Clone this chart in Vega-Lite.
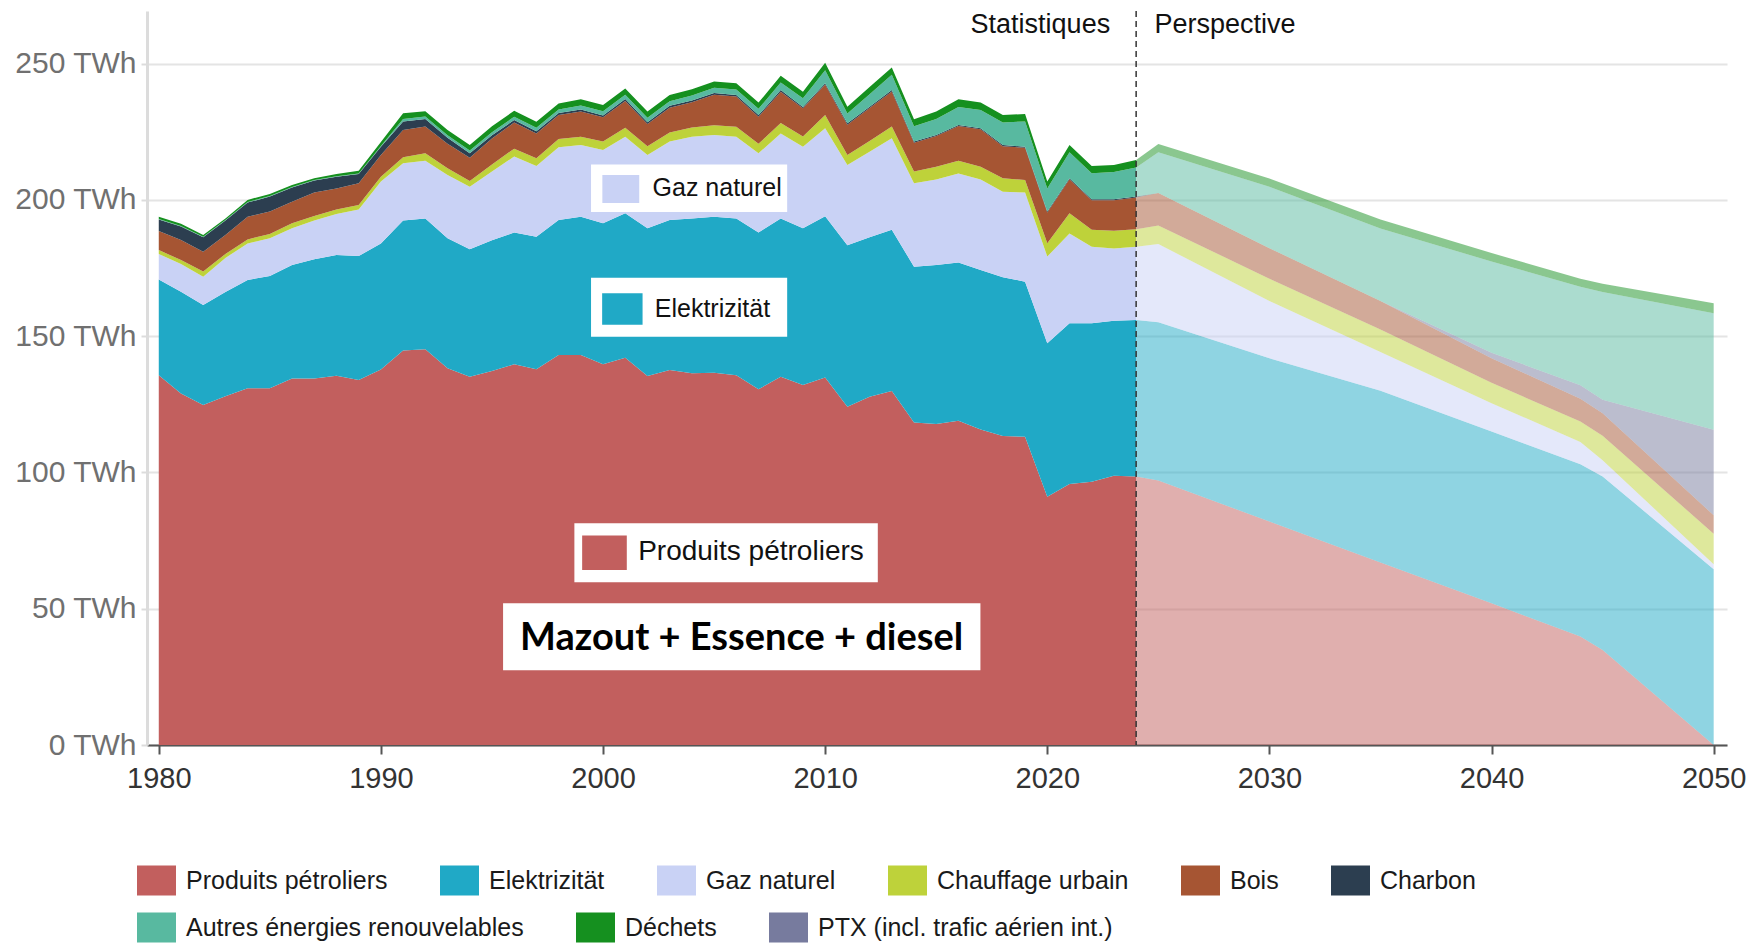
{
"$schema": "https://vega.github.io/schema/vega-lite/v6.json",
"width": 1580,
"height": 734,
"autosize": {"type": "none"},
"padding": {"left": 147, "top": 11, "right": 22, "bottom": 199},
"background": "white",
"config": {
  "view": {"stroke": null},
  "font": "Liberation Sans",
  "legend": {"gridAlign": "none", "orient": "none", "direction": "horizontal", "columnPadding": 52, "rowPadding": 12, "title": null, "padding": 0,
    "symbolType": "M-1,-0.77H1V0.77H-1Z", "symbolSize": 1521, "symbolStrokeWidth": 0, "symbolOpacity": 1,
    "labelFont": "Liberation Sans", "labelFontSize": 25, "labelColor": "#1a1a1a", "labelOffset": 10, "labelLimit": 1000},
  "axisX": {"labelFont": "Liberation Sans", "labelFontSize": 29, "labelColor": "#333333", "domainColor": "#555555", "domainWidth": 2, "tickColor": "#555555", "tickWidth": 2, "tickSize": 9, "labelPadding": 10, "grid": false, "zindex": 1},
  "axisY": {"labelFont": "Liberation Sans", "labelFontSize": 30, "labelColor": "#707070", "domainColor": "#dcdcdc", "domainWidth": 3, "tickColor": "#dcdcdc", "tickWidth": 2, "tickSize": 6, "labelPadding": 5, "grid": true, "gridColor": "#e4e4e4", "gridWidth": 2}
},
"resolve": {"legend": {"color": "independent"}},
"datasets": {
"order": [
{"cat":"Produits pétroliers","rank":1},{"cat":"Elektrizität","rank":2},{"cat":"Gaz naturel","rank":3},{"cat":"Chauffage urbain","rank":4},{"cat":"Bois","rank":5},{"cat":"Charbon","rank":6},{"cat":"PTX (incl. trafic aérien int.)","rank":7},{"cat":"Autres énergies renouvelables","rank":8},{"cat":"Déchets","rank":9}
],
"hist": [
{"year":1980,"cat":"Produits pétroliers","twh":135.7},{"year":1980,"cat":"Elektrizität","twh":35.1},{"year":1980,"cat":"Gaz naturel","twh":9.3},{"year":1980,"cat":"Chauffage urbain","twh":1.5},{"year":1980,"cat":"Bois","twh":7.0},{"year":1980,"cat":"Charbon","twh":4.2},{"year":1980,"cat":"PTX (incl. trafic aérien int.)","twh":0},{"year":1980,"cat":"Autres énergies renouvelables","twh":0.2},{"year":1980,"cat":"Déchets","twh":0.8},
{"year":1981,"cat":"Produits pétroliers","twh":129.0},{"year":1981,"cat":"Elektrizität","twh":37.3},{"year":1981,"cat":"Gaz naturel","twh":10.2},{"year":1981,"cat":"Chauffage urbain","twh":1.4},{"year":1981,"cat":"Bois","twh":7.4},{"year":1981,"cat":"Charbon","twh":4.9},{"year":1981,"cat":"PTX (incl. trafic aérien int.)","twh":0},{"year":1981,"cat":"Autres énergies renouvelables","twh":0.2},{"year":1981,"cat":"Déchets","twh":0.8},
{"year":1982,"cat":"Produits pétroliers","twh":124.7},{"year":1982,"cat":"Elektrizität","twh":36.7},{"year":1982,"cat":"Gaz naturel","twh":10.4},{"year":1982,"cat":"Chauffage urbain","twh":1.9},{"year":1982,"cat":"Bois","twh":7.3},{"year":1982,"cat":"Charbon","twh":5.3},{"year":1982,"cat":"PTX (incl. trafic aérien int.)","twh":0},{"year":1982,"cat":"Autres énergies renouvelables","twh":0.2},{"year":1982,"cat":"Déchets","twh":0.6},
{"year":1983,"cat":"Produits pétroliers","twh":128.0},{"year":1983,"cat":"Elektrizität","twh":38.2},{"year":1983,"cat":"Gaz naturel","twh":12.5},{"year":1983,"cat":"Chauffage urbain","twh":1.4},{"year":1983,"cat":"Bois","twh":7.0},{"year":1983,"cat":"Charbon","twh":5.3},{"year":1983,"cat":"PTX (incl. trafic aérien int.)","twh":0},{"year":1983,"cat":"Autres énergies renouvelables","twh":0.2},{"year":1983,"cat":"Déchets","twh":0.6},
{"year":1984,"cat":"Produits pétroliers","twh":130.9},{"year":1984,"cat":"Elektrizität","twh":39.7},{"year":1984,"cat":"Gaz naturel","twh":13.4},{"year":1984,"cat":"Chauffage urbain","twh":1.5},{"year":1984,"cat":"Bois","twh":8.3},{"year":1984,"cat":"Charbon","twh":5.2},{"year":1984,"cat":"PTX (incl. trafic aérien int.)","twh":0},{"year":1984,"cat":"Autres énergies renouvelables","twh":0.2},{"year":1984,"cat":"Déchets","twh":0.8},
{"year":1985,"cat":"Produits pétroliers","twh":130.9},{"year":1985,"cat":"Elektrizität","twh":41.2},{"year":1985,"cat":"Gaz naturel","twh":13.8},{"year":1985,"cat":"Chauffage urbain","twh":1.6},{"year":1985,"cat":"Bois","twh":8.2},{"year":1985,"cat":"Charbon","twh":5.5},{"year":1985,"cat":"PTX (incl. trafic aérien int.)","twh":0},{"year":1985,"cat":"Autres énergies renouvelables","twh":0.2},{"year":1985,"cat":"Déchets","twh":0.8},
{"year":1986,"cat":"Produits pétroliers","twh":134.5},{"year":1986,"cat":"Elektrizität","twh":41.6},{"year":1986,"cat":"Gaz naturel","twh":13.5},{"year":1986,"cat":"Chauffage urbain","twh":1.8},{"year":1986,"cat":"Bois","twh":7.9},{"year":1986,"cat":"Charbon","twh":5.2},{"year":1986,"cat":"PTX (incl. trafic aérien int.)","twh":0},{"year":1986,"cat":"Autres énergies renouvelables","twh":0.2},{"year":1986,"cat":"Déchets","twh":0.8},
{"year":1987,"cat":"Produits pétroliers","twh":134.5},{"year":1987,"cat":"Elektrizität","twh":43.7},{"year":1987,"cat":"Gaz naturel","twh":14.2},{"year":1987,"cat":"Chauffage urbain","twh":1.7},{"year":1987,"cat":"Bois","twh":8.6},{"year":1987,"cat":"Charbon","twh":4.4},{"year":1987,"cat":"PTX (incl. trafic aérien int.)","twh":0},{"year":1987,"cat":"Autres énergies renouvelables","twh":0.2},{"year":1987,"cat":"Déchets","twh":0.6},
{"year":1988,"cat":"Produits pétroliers","twh":135.5},{"year":1988,"cat":"Elektrizität","twh":44.3},{"year":1988,"cat":"Gaz naturel","twh":15.0},{"year":1988,"cat":"Chauffage urbain","twh":1.7},{"year":1988,"cat":"Bois","twh":7.7},{"year":1988,"cat":"Charbon","twh":4.3},{"year":1988,"cat":"PTX (incl. trafic aérien int.)","twh":0},{"year":1988,"cat":"Autres énergies renouvelables","twh":0.2},{"year":1988,"cat":"Déchets","twh":0.8},
{"year":1989,"cat":"Produits pétroliers","twh":133.9},{"year":1989,"cat":"Elektrizität","twh":45.5},{"year":1989,"cat":"Gaz naturel","twh":17.1},{"year":1989,"cat":"Chauffage urbain","twh":1.6},{"year":1989,"cat":"Bois","twh":8.0},{"year":1989,"cat":"Charbon","twh":3.4},{"year":1989,"cat":"PTX (incl. trafic aérien int.)","twh":0},{"year":1989,"cat":"Autres énergies renouvelables","twh":0.2},{"year":1989,"cat":"Déchets","twh":1.0},
{"year":1990,"cat":"Produits pétroliers","twh":137.8},{"year":1990,"cat":"Elektrizität","twh":46.2},{"year":1990,"cat":"Gaz naturel","twh":22.7},{"year":1990,"cat":"Chauffage urbain","twh":1.8},{"year":1990,"cat":"Bois","twh":8.0},{"year":1990,"cat":"Charbon","twh":3.0},{"year":1990,"cat":"PTX (incl. trafic aérien int.)","twh":0},{"year":1990,"cat":"Autres énergies renouvelables","twh":0.3},{"year":1990,"cat":"Déchets","twh":1.4},
{"year":1991,"cat":"Produits pétroliers","twh":144.7},{"year":1991,"cat":"Elektrizität","twh":47.7},{"year":1991,"cat":"Gaz naturel","twh":21.0},{"year":1991,"cat":"Chauffage urbain","twh":2.2},{"year":1991,"cat":"Bois","twh":10.0},{"year":1991,"cat":"Charbon","twh":3.2},{"year":1991,"cat":"PTX (incl. trafic aérien int.)","twh":0},{"year":1991,"cat":"Autres énergies renouvelables","twh":0.9},{"year":1991,"cat":"Déchets","twh":2.1},
{"year":1992,"cat":"Produits pétroliers","twh":145.2},{"year":1992,"cat":"Elektrizität","twh":48.0},{"year":1992,"cat":"Gaz naturel","twh":21.2},{"year":1992,"cat":"Chauffage urbain","twh":2.7},{"year":1992,"cat":"Bois","twh":9.8},{"year":1992,"cat":"Charbon","twh":2.8},{"year":1992,"cat":"PTX (incl. trafic aérien int.)","twh":0},{"year":1992,"cat":"Autres énergies renouvelables","twh":0.9},{"year":1992,"cat":"Déchets","twh":1.9},
{"year":1993,"cat":"Produits pétroliers","twh":138.2},{"year":1993,"cat":"Elektrizität","twh":47.7},{"year":1993,"cat":"Gaz naturel","twh":23.2},{"year":1993,"cat":"Chauffage urbain","twh":2.5},{"year":1993,"cat":"Bois","twh":9.0},{"year":1993,"cat":"Charbon","twh":2.2},{"year":1993,"cat":"PTX (incl. trafic aérien int.)","twh":0},{"year":1993,"cat":"Autres énergies renouvelables","twh":0.9},{"year":1993,"cat":"Déchets","twh":1.9},
{"year":1994,"cat":"Produits pétroliers","twh":135.1},{"year":1994,"cat":"Elektrizität","twh":46.8},{"year":1994,"cat":"Gaz naturel","twh":22.9},{"year":1994,"cat":"Chauffage urbain","twh":2.1},{"year":1994,"cat":"Bois","twh":8.6},{"year":1994,"cat":"Charbon","twh":1.6},{"year":1994,"cat":"PTX (incl. trafic aérien int.)","twh":0},{"year":1994,"cat":"Autres énergies renouvelables","twh":1.0},{"year":1994,"cat":"Déchets","twh":2.0},
{"year":1995,"cat":"Produits pétroliers","twh":137.2},{"year":1995,"cat":"Elektrizität","twh":48.0},{"year":1995,"cat":"Gaz naturel","twh":25.2},{"year":1995,"cat":"Chauffage urbain","twh":2.6},{"year":1995,"cat":"Bois","twh":9.5},{"year":1995,"cat":"Charbon","twh":1.2},{"year":1995,"cat":"PTX (incl. trafic aérien int.)","twh":0},{"year":1995,"cat":"Autres énergies renouvelables","twh":1.1},{"year":1995,"cat":"Déchets","twh":2.2},
{"year":1996,"cat":"Produits pétroliers","twh":139.7},{"year":1996,"cat":"Elektrizität","twh":48.3},{"year":1996,"cat":"Gaz naturel","twh":27.9},{"year":1996,"cat":"Chauffage urbain","twh":2.9},{"year":1996,"cat":"Bois","twh":9.6},{"year":1996,"cat":"Charbon","twh":0.9},{"year":1996,"cat":"PTX (incl. trafic aérien int.)","twh":0},{"year":1996,"cat":"Autres énergies renouvelables","twh":1.2},{"year":1996,"cat":"Déchets","twh":2.2},
{"year":1997,"cat":"Produits pétroliers","twh":137.9},{"year":1997,"cat":"Elektrizität","twh":48.6},{"year":1997,"cat":"Gaz naturel","twh":25.9},{"year":1997,"cat":"Chauffage urbain","twh":2.9},{"year":1997,"cat":"Bois","twh":9.1},{"year":1997,"cat":"Charbon","twh":0.8},{"year":1997,"cat":"PTX (incl. trafic aérien int.)","twh":0},{"year":1997,"cat":"Autres énergies renouvelables","twh":1.3},{"year":1997,"cat":"Déchets","twh":2.2},
{"year":1998,"cat":"Produits pétroliers","twh":143.1},{"year":1998,"cat":"Elektrizität","twh":49.5},{"year":1998,"cat":"Gaz naturel","twh":26.7},{"year":1998,"cat":"Chauffage urbain","twh":3.0},{"year":1998,"cat":"Bois","twh":8.8},{"year":1998,"cat":"Charbon","twh":0.8},{"year":1998,"cat":"PTX (incl. trafic aérien int.)","twh":0},{"year":1998,"cat":"Autres énergies renouvelables","twh":1.3},{"year":1998,"cat":"Déchets","twh":2.2},
{"year":1999,"cat":"Produits pétroliers","twh":143.1},{"year":1999,"cat":"Elektrizität","twh":50.7},{"year":1999,"cat":"Gaz naturel","twh":26.3},{"year":1999,"cat":"Chauffage urbain","twh":3.1},{"year":1999,"cat":"Bois","twh":9.2},{"year":1999,"cat":"Charbon","twh":0.8},{"year":1999,"cat":"PTX (incl. trafic aérien int.)","twh":0},{"year":1999,"cat":"Autres énergies renouvelables","twh":1.4},{"year":1999,"cat":"Déchets","twh":2.3},
{"year":2000,"cat":"Produits pétroliers","twh":139.7},{"year":2000,"cat":"Elektrizität","twh":51.7},{"year":2000,"cat":"Gaz naturel","twh":26.9},{"year":2000,"cat":"Chauffage urbain","twh":3.1},{"year":2000,"cat":"Bois","twh":8.9},{"year":2000,"cat":"Charbon","twh":0.7},{"year":2000,"cat":"PTX (incl. trafic aérien int.)","twh":0},{"year":2000,"cat":"Autres énergies renouvelables","twh":1.5},{"year":2000,"cat":"Déchets","twh":2.3},
{"year":2001,"cat":"Produits pétroliers","twh":142.1},{"year":2001,"cat":"Elektrizität","twh":53.0},{"year":2001,"cat":"Gaz naturel","twh":28.1},{"year":2001,"cat":"Chauffage urbain","twh":3.3},{"year":2001,"cat":"Bois","twh":9.8},{"year":2001,"cat":"Charbon","twh":0.7},{"year":2001,"cat":"PTX (incl. trafic aérien int.)","twh":0},{"year":2001,"cat":"Autres énergies renouvelables","twh":1.6},{"year":2001,"cat":"Déchets","twh":2.3},
{"year":2002,"cat":"Produits pétroliers","twh":135.4},{"year":2002,"cat":"Elektrizität","twh":54.2},{"year":2002,"cat":"Gaz naturel","twh":26.9},{"year":2002,"cat":"Chauffage urbain","twh":3.2},{"year":2002,"cat":"Bois","twh":8.1},{"year":2002,"cat":"Charbon","twh":0.7},{"year":2002,"cat":"PTX (incl. trafic aérien int.)","twh":0},{"year":2002,"cat":"Autres énergies renouvelables","twh":1.6},{"year":2002,"cat":"Déchets","twh":2.3},
{"year":2003,"cat":"Produits pétroliers","twh":137.6},{"year":2003,"cat":"Elektrizität","twh":55.0},{"year":2003,"cat":"Gaz naturel","twh":28.8},{"year":2003,"cat":"Chauffage urbain","twh":3.3},{"year":2003,"cat":"Bois","twh":9.1},{"year":2003,"cat":"Charbon","twh":0.7},{"year":2003,"cat":"PTX (incl. trafic aérien int.)","twh":0},{"year":2003,"cat":"Autres énergies renouvelables","twh":1.7},{"year":2003,"cat":"Déchets","twh":2.3},
{"year":2004,"cat":"Produits pétroliers","twh":136.4},{"year":2004,"cat":"Elektrizität","twh":56.8},{"year":2004,"cat":"Gaz naturel","twh":30.0},{"year":2004,"cat":"Chauffage urbain","twh":3.4},{"year":2004,"cat":"Bois","twh":9.2},{"year":2004,"cat":"Charbon","twh":0.7},{"year":2004,"cat":"PTX (incl. trafic aérien int.)","twh":0},{"year":2004,"cat":"Autres énergies renouvelables","twh":1.8},{"year":2004,"cat":"Déchets","twh":2.3},
{"year":2005,"cat":"Produits pétroliers","twh":136.6},{"year":2005,"cat":"Elektrizität","twh":57.2},{"year":2005,"cat":"Gaz naturel","twh":30.0},{"year":2005,"cat":"Chauffage urbain","twh":3.6},{"year":2005,"cat":"Bois","twh":11.2},{"year":2005,"cat":"Charbon","twh":0.6},{"year":2005,"cat":"PTX (incl. trafic aérien int.)","twh":0},{"year":2005,"cat":"Autres énergies renouvelables","twh":1.9},{"year":2005,"cat":"Déchets","twh":2.3},
{"year":2006,"cat":"Produits pétroliers","twh":135.7},{"year":2006,"cat":"Elektrizität","twh":57.5},{"year":2006,"cat":"Gaz naturel","twh":30.0},{"year":2006,"cat":"Chauffage urbain","twh":3.6},{"year":2006,"cat":"Bois","twh":11.1},{"year":2006,"cat":"Charbon","twh":0.6},{"year":2006,"cat":"PTX (incl. trafic aérien int.)","twh":0},{"year":2006,"cat":"Autres énergies renouvelables","twh":2.0},{"year":2006,"cat":"Déchets","twh":2.3},
{"year":2007,"cat":"Produits pétroliers","twh":130.5},{"year":2007,"cat":"Elektrizität","twh":57.5},{"year":2007,"cat":"Gaz naturel","twh":29.1},{"year":2007,"cat":"Chauffage urbain","twh":3.5},{"year":2007,"cat":"Bois","twh":9.9},{"year":2007,"cat":"Charbon","twh":0.6},{"year":2007,"cat":"PTX (incl. trafic aérien int.)","twh":0},{"year":2007,"cat":"Autres énergies renouvelables","twh":2.3},{"year":2007,"cat":"Déchets","twh":2.3},
{"year":2008,"cat":"Produits pétroliers","twh":135.1},{"year":2008,"cat":"Elektrizität","twh":58.1},{"year":2008,"cat":"Gaz naturel","twh":31.2},{"year":2008,"cat":"Chauffage urbain","twh":3.8},{"year":2008,"cat":"Bois","twh":11.5},{"year":2008,"cat":"Charbon","twh":0.6},{"year":2008,"cat":"PTX (incl. trafic aérien int.)","twh":0},{"year":2008,"cat":"Autres énergies renouvelables","twh":2.8},{"year":2008,"cat":"Déchets","twh":2.4},
{"year":2009,"cat":"Produits pétroliers","twh":132.1},{"year":2009,"cat":"Elektrizität","twh":57.5},{"year":2009,"cat":"Gaz naturel","twh":29.9},{"year":2009,"cat":"Chauffage urbain","twh":3.8},{"year":2009,"cat":"Bois","twh":10.3},{"year":2009,"cat":"Charbon","twh":0.5},{"year":2009,"cat":"PTX (incl. trafic aérien int.)","twh":0},{"year":2009,"cat":"Autres énergies renouvelables","twh":3.2},{"year":2009,"cat":"Déchets","twh":2.4},
{"year":2010,"cat":"Produits pétroliers","twh":134.8},{"year":2010,"cat":"Elektrizität","twh":59.2},{"year":2010,"cat":"Gaz naturel","twh":32.3},{"year":2010,"cat":"Chauffage urbain","twh":4.8},{"year":2010,"cat":"Bois","twh":11.2},{"year":2010,"cat":"Charbon","twh":0.5},{"year":2010,"cat":"PTX (incl. trafic aérien int.)","twh":0},{"year":2010,"cat":"Autres énergies renouvelables","twh":4.8},{"year":2010,"cat":"Déchets","twh":2.7},
{"year":2011,"cat":"Produits pétroliers","twh":124.1},{"year":2011,"cat":"Elektrizität","twh":59.3},{"year":2011,"cat":"Gaz naturel","twh":29.4},{"year":2011,"cat":"Chauffage urbain","twh":3.7},{"year":2011,"cat":"Bois","twh":11.1},{"year":2011,"cat":"Charbon","twh":0.5},{"year":2011,"cat":"PTX (incl. trafic aérien int.)","twh":0},{"year":2011,"cat":"Autres énergies renouvelables","twh":3.6},{"year":2011,"cat":"Déchets","twh":2.5},
{"year":2012,"cat":"Produits pétroliers","twh":127.8},{"year":2012,"cat":"Elektrizität","twh":58.5},{"year":2012,"cat":"Gaz naturel","twh":31.4},{"year":2012,"cat":"Chauffage urbain","twh":3.9},{"year":2012,"cat":"Bois","twh":12.1},{"year":2012,"cat":"Charbon","twh":0.5},{"year":2012,"cat":"PTX (incl. trafic aérien int.)","twh":0},{"year":2012,"cat":"Autres énergies renouvelables","twh":4.6},{"year":2012,"cat":"Déchets","twh":2.6},
{"year":2013,"cat":"Produits pétroliers","twh":129.9},{"year":2013,"cat":"Elektrizität","twh":59.1},{"year":2013,"cat":"Gaz naturel","twh":33.6},{"year":2013,"cat":"Chauffage urbain","twh":4.3},{"year":2013,"cat":"Bois","twh":12.9},{"year":2013,"cat":"Charbon","twh":0.5},{"year":2013,"cat":"PTX (incl. trafic aérien int.)","twh":0},{"year":2013,"cat":"Autres énergies renouvelables","twh":5.6},{"year":2013,"cat":"Déchets","twh":2.7},
{"year":2014,"cat":"Produits pétroliers","twh":118.3},{"year":2014,"cat":"Elektrizität","twh":57.2},{"year":2014,"cat":"Gaz naturel","twh":30.6},{"year":2014,"cat":"Chauffage urbain","twh":4.3},{"year":2014,"cat":"Bois","twh":10.6},{"year":2014,"cat":"Charbon","twh":0.4},{"year":2014,"cat":"PTX (incl. trafic aérien int.)","twh":0},{"year":2014,"cat":"Autres énergies renouvelables","twh":5.6},{"year":2014,"cat":"Déchets","twh":2.6},
{"year":2015,"cat":"Produits pétroliers","twh":117.8},{"year":2015,"cat":"Elektrizität","twh":58.3},{"year":2015,"cat":"Gaz naturel","twh":31.4},{"year":2015,"cat":"Chauffage urbain","twh":4.7},{"year":2015,"cat":"Bois","twh":11.2},{"year":2015,"cat":"Charbon","twh":0.4},{"year":2015,"cat":"PTX (incl. trafic aérien int.)","twh":0},{"year":2015,"cat":"Autres énergies renouvelables","twh":5.9},{"year":2015,"cat":"Déchets","twh":2.7},
{"year":2016,"cat":"Produits pétroliers","twh":119.0},{"year":2016,"cat":"Elektrizität","twh":58.0},{"year":2016,"cat":"Gaz naturel","twh":32.7},{"year":2016,"cat":"Chauffage urbain","twh":4.7},{"year":2016,"cat":"Bois","twh":12.7},{"year":2016,"cat":"Charbon","twh":0.4},{"year":2016,"cat":"PTX (incl. trafic aérien int.)","twh":0},{"year":2016,"cat":"Autres énergies renouvelables","twh":6.6},{"year":2016,"cat":"Déchets","twh":2.8},
{"year":2017,"cat":"Produits pétroliers","twh":115.8},{"year":2017,"cat":"Elektrizität","twh":58.5},{"year":2017,"cat":"Gaz naturel","twh":33.2},{"year":2017,"cat":"Chauffage urbain","twh":4.7},{"year":2017,"cat":"Bois","twh":13.7},{"year":2017,"cat":"Charbon","twh":0.4},{"year":2017,"cat":"PTX (incl. trafic aérien int.)","twh":0},{"year":2017,"cat":"Autres énergies renouvelables","twh":6.7},{"year":2017,"cat":"Déchets","twh":2.7},
{"year":2018,"cat":"Produits pétroliers","twh":113.4},{"year":2018,"cat":"Elektrizität","twh":58.2},{"year":2018,"cat":"Gaz naturel","twh":31.4},{"year":2018,"cat":"Chauffage urbain","twh":4.9},{"year":2018,"cat":"Bois","twh":11.8},{"year":2018,"cat":"Charbon","twh":0.4},{"year":2018,"cat":"PTX (incl. trafic aérien int.)","twh":0},{"year":2018,"cat":"Autres énergies renouvelables","twh":8.3},{"year":2018,"cat":"Déchets","twh":2.7},
{"year":2019,"cat":"Produits pétroliers","twh":113.1},{"year":2019,"cat":"Elektrizität","twh":56.9},{"year":2019,"cat":"Gaz naturel","twh":32.7},{"year":2019,"cat":"Chauffage urbain","twh":4.6},{"year":2019,"cat":"Bois","twh":11.8},{"year":2019,"cat":"Charbon","twh":0.4},{"year":2019,"cat":"PTX (incl. trafic aérien int.)","twh":0},{"year":2019,"cat":"Autres énergies renouvelables","twh":9.3},{"year":2019,"cat":"Déchets","twh":2.7},
{"year":2020,"cat":"Produits pétroliers","twh":91.1},{"year":2020,"cat":"Elektrizität","twh":56.3},{"year":2020,"cat":"Gaz naturel","twh":31.8},{"year":2020,"cat":"Chauffage urbain","twh":4.9},{"year":2020,"cat":"Bois","twh":11.3},{"year":2020,"cat":"Charbon","twh":0.3},{"year":2020,"cat":"PTX (incl. trafic aérien int.)","twh":0},{"year":2020,"cat":"Autres énergies renouvelables","twh":8.5},{"year":2020,"cat":"Déchets","twh":2.5},
{"year":2021,"cat":"Produits pétroliers","twh":95.8},{"year":2021,"cat":"Elektrizität","twh":58.9},{"year":2021,"cat":"Gaz naturel","twh":33.0},{"year":2021,"cat":"Chauffage urbain","twh":7.4},{"year":2021,"cat":"Bois","twh":12.5},{"year":2021,"cat":"Charbon","twh":0.3},{"year":2021,"cat":"PTX (incl. trafic aérien int.)","twh":0},{"year":2021,"cat":"Autres énergies renouvelables","twh":9.6},{"year":2021,"cat":"Déchets","twh":2.6},
{"year":2022,"cat":"Produits pétroliers","twh":96.6},{"year":2022,"cat":"Elektrizität","twh":58.1},{"year":2022,"cat":"Gaz naturel","twh":28.1},{"year":2022,"cat":"Chauffage urbain","twh":6.2},{"year":2022,"cat":"Bois","twh":10.9},{"year":2022,"cat":"Charbon","twh":0.3},{"year":2022,"cat":"PTX (incl. trafic aérien int.)","twh":0},{"year":2022,"cat":"Autres énergies renouvelables","twh":9.6},{"year":2022,"cat":"Déchets","twh":2.6},
{"year":2023,"cat":"Produits pétroliers","twh":98.8},{"year":2023,"cat":"Elektrizität","twh":56.9},{"year":2023,"cat":"Gaz naturel","twh":26.5},{"year":2023,"cat":"Chauffage urbain","twh":6.5},{"year":2023,"cat":"Bois","twh":11.2},{"year":2023,"cat":"Charbon","twh":0.3},{"year":2023,"cat":"PTX (incl. trafic aérien int.)","twh":0},{"year":2023,"cat":"Autres énergies renouvelables","twh":10.0},{"year":2023,"cat":"Déchets","twh":2.6},
{"year":2024,"cat":"Produits pétroliers","twh":98.5},{"year":2024,"cat":"Elektrizität","twh":57.4},{"year":2024,"cat":"Gaz naturel","twh":26.9},{"year":2024,"cat":"Chauffage urbain","twh":6.4},{"year":2024,"cat":"Bois","twh":11.7},{"year":2024,"cat":"Charbon","twh":0.3},{"year":2024,"cat":"PTX (incl. trafic aérien int.)","twh":0},{"year":2024,"cat":"Autres énergies renouvelables","twh":10.7},{"year":2024,"cat":"Déchets","twh":2.7}
],
"persp": [
{"year":2024,"cat":"Produits pétroliers","twh":98.5},{"year":2024,"cat":"Elektrizität","twh":57.4},{"year":2024,"cat":"Gaz naturel","twh":26.9},{"year":2024,"cat":"Chauffage urbain","twh":6.4},{"year":2024,"cat":"Bois","twh":11.7},{"year":2024,"cat":"Charbon","twh":0.3},{"year":2024,"cat":"PTX (incl. trafic aérien int.)","twh":0},{"year":2024,"cat":"Autres énergies renouvelables","twh":10.7},{"year":2024,"cat":"Déchets","twh":2.7},
{"year":2025,"cat":"Produits pétroliers","twh":97.0},{"year":2025,"cat":"Elektrizität","twh":58.1},{"year":2025,"cat":"Gaz naturel","twh":28.7},{"year":2025,"cat":"Chauffage urbain","twh":6.8},{"year":2025,"cat":"Bois","twh":11.9},{"year":2025,"cat":"Charbon","twh":0},{"year":2025,"cat":"PTX (incl. trafic aérien int.)","twh":0},{"year":2025,"cat":"Autres énergies renouvelables","twh":15.0},{"year":2025,"cat":"Déchets","twh":3.0},
{"year":2030,"cat":"Produits pétroliers","twh":82.0},{"year":2030,"cat":"Elektrizität","twh":59.9},{"year":2030,"cat":"Gaz naturel","twh":21.0},{"year":2030,"cat":"Chauffage urbain","twh":8.2},{"year":2030,"cat":"Bois","twh":11.2},{"year":2030,"cat":"Charbon","twh":0},{"year":2030,"cat":"PTX (incl. trafic aérien int.)","twh":0},{"year":2030,"cat":"Autres énergies renouvelables","twh":22.5},{"year":2030,"cat":"Déchets","twh":3.0},
{"year":2035,"cat":"Produits pétroliers","twh":67.0},{"year":2035,"cat":"Elektrizität","twh":63.0},{"year":2035,"cat":"Gaz naturel","twh":14.2},{"year":2035,"cat":"Chauffage urbain","twh":8.2},{"year":2035,"cat":"Bois","twh":10.5},{"year":2035,"cat":"Charbon","twh":0},{"year":2035,"cat":"PTX (incl. trafic aérien int.)","twh":0},{"year":2035,"cat":"Autres énergies renouvelables","twh":26.6},{"year":2035,"cat":"Déchets","twh":3.3},
{"year":2040,"cat":"Produits pétroliers","twh":52.0},{"year":2040,"cat":"Elektrizität","twh":63.0},{"year":2040,"cat":"Gaz naturel","twh":10.4},{"year":2040,"cat":"Chauffage urbain","twh":7.5},{"year":2040,"cat":"Bois","twh":9.0},{"year":2040,"cat":"Charbon","twh":0},{"year":2040,"cat":"PTX (incl. trafic aérien int.)","twh":2.0},{"year":2040,"cat":"Autres énergies renouvelables","twh":33.5},{"year":2040,"cat":"Déchets","twh":3.1},
{"year":2044,"cat":"Produits pétroliers","twh":39.8},{"year":2044,"cat":"Elektrizität","twh":63.2},{"year":2044,"cat":"Gaz naturel","twh":8.2},{"year":2044,"cat":"Chauffage urbain","twh":7.5},{"year":2044,"cat":"Bois","twh":8.3},{"year":2044,"cat":"Charbon","twh":0},{"year":2044,"cat":"PTX (incl. trafic aérien int.)","twh":5.0},{"year":2044,"cat":"Autres énergies renouvelables","twh":36.1},{"year":2044,"cat":"Déchets","twh":3.0},
{"year":2045,"cat":"Produits pétroliers","twh":34.9},{"year":2045,"cat":"Elektrizität","twh":63.6},{"year":2045,"cat":"Gaz naturel","twh":6.0},{"year":2045,"cat":"Chauffage urbain","twh":9.0},{"year":2045,"cat":"Bois","twh":8.2},{"year":2045,"cat":"Charbon","twh":0},{"year":2045,"cat":"PTX (incl. trafic aérien int.)","twh":5.0},{"year":2045,"cat":"Autres énergies renouvelables","twh":39.5},{"year":2045,"cat":"Déchets","twh":3.0},
{"year":2050,"cat":"Produits pétroliers","twh":0},{"year":2050,"cat":"Elektrizität","twh":64.5},{"year":2050,"cat":"Gaz naturel","twh":1.8},{"year":2050,"cat":"Chauffage urbain","twh":11.2},{"year":2050,"cat":"Bois","twh":6.8},{"year":2050,"cat":"Charbon","twh":0},{"year":2050,"cat":"PTX (incl. trafic aérien int.)","twh":31.4},{"year":2050,"cat":"Autres énergies renouvelables","twh":42.7},{"year":2050,"cat":"Déchets","twh":3.7}
]
},
"layer": [
{
  "data": {"name": "hist"},
  "transform": [{"lookup": "cat", "from": {"data": {"name": "order"}, "key": "cat", "fields": ["rank"]}}],
  "mark": {"type": "area", "opacity": 1},
  "encoding": {
    "x": {"field": "year", "type": "quantitative", "title": null,
      "scale": {"domain": [1979.47, 2050.6], "nice": false, "zero": false},
      "axis": {"values": [1980, 1990, 2000, 2010, 2020, 2030, 2040, 2050], "format": "d", "title": null}},
    "y": {"field": "twh", "type": "quantitative", "stack": "zero", "title": null,
      "scale": {"domain": [0, 269.3], "nice": false},
      "axis": {"values": [0, 50, 100, 150, 200, 250], "labelExpr": "datum.value + ' TWh'", "title": null}},
    "color": {"field": "cat", "type": "nominal",
      "scale": {
        "domain": ["Produits pétroliers", "Elektrizität", "Gaz naturel", "Chauffage urbain", "Bois", "Charbon", "PTX (incl. trafic aérien int.)", "Autres énergies renouvelables", "Déchets"],
        "range": ["#c25f5e", "#20a9c6", "#c9d2f5", "#bed23a", "#a65533", "#2c3e50", "#777b9e", "#58b9a0", "#15901f"]},
      "legend": {
        "values": ["Produits pétroliers", "Elektrizität", "Gaz naturel", "Chauffage urbain", "Bois", "Charbon"],
        "orient": "none", "legendX": -10, "legendY": 850, "direction": "horizontal", "columns": 6, "gridAlign": "none",
        "encode": {"symbols": {"update": {"opacity": {"value": 1}, "fillOpacity": {"value": 1}}}}}},
    "order": {"field": "rank", "type": "quantitative", "sort": "ascending"}
  }
},
{
  "data": {"name": "persp"},
  "transform": [{"lookup": "cat", "from": {"data": {"name": "order"}, "key": "cat", "fields": ["rank"]}}],
  "mark": {"type": "area", "opacity": 0.5},
  "encoding": {
    "x": {"field": "year", "type": "quantitative", "title": null},
    "y": {"field": "twh", "type": "quantitative", "stack": "zero", "title": null},
    "color": {"field": "cat", "type": "nominal",
      "legend": {
        "values": ["Autres énergies renouvelables", "Déchets", "PTX (incl. trafic aérien int.)"],
        "orient": "none", "legendX": -10, "legendY": 897, "direction": "horizontal", "columns": 3, "gridAlign": "none",
        "encode": {"symbols": {"update": {"opacity": {"value": 1}, "fillOpacity": {"value": 1}}}}}},
    "order": {"field": "rank", "type": "quantitative", "sort": "ascending"}
  }
},
{
  "data": {"values": [{}]},
  "mark": {"type": "rule", "color": "#333333", "strokeWidth": 1.5, "strokeDash": [6, 4]},
  "encoding": {"x": {"datum": 2024}}
},
{
  "data": {"values": [{}]},
  "mark": {"type": "text", "text": "Statistiques", "align": "right", "baseline": "middle", "font": "Liberation Sans", "fontSize": 27, "color": "#111111"},
  "encoding": {"x": {"datum": 2022.83}, "y": {"datum": 264.3}}
},
{
  "data": {"values": [{}]},
  "mark": {"type": "text", "text": "Perspective", "align": "left", "baseline": "middle", "font": "Liberation Sans", "fontSize": 27, "color": "#111111"},
  "encoding": {"x": {"datum": 2024.83}, "y": {"datum": 264.3}}
},
{
  "data": {"values": [{}]},
  "mark": {"type": "rect", "color": "white"},
  "encoding": {"x": {"datum": 1999.46}, "x2": {"datum": 2008.29}, "y": {"datum": 213.0}, "y2": {"datum": 195.6}}
},
{
  "data": {"values": [{}]},
  "mark": {"type": "rect", "color": "white"},
  "encoding": {"x": {"datum": 1999.46}, "x2": {"datum": 2008.29}, "y": {"datum": 171.4}, "y2": {"datum": 149.8}}
},
{
  "data": {"values": [{}]},
  "mark": {"type": "rect", "color": "white"},
  "encoding": {"x": {"datum": 1998.71}, "x2": {"datum": 2012.37}, "y": {"datum": 81.4}, "y2": {"datum": 59.7}}
},
{
  "data": {"values": [{}]},
  "mark": {"type": "rect", "color": "white"},
  "encoding": {"x": {"datum": 1995.5}, "x2": {"datum": 2016.99}, "y": {"datum": 52.0}, "y2": {"datum": 27.4}}
},
{
  "data": {"values": [{}]},
  "mark": {"type": "rect", "fill": "#c9d2f5"},
  "encoding": {"x": {"datum": 1999.97}, "x2": {"datum": 2001.63}, "y": {"datum": 209.1}, "y2": {"datum": 198.9}}
},
{
  "data": {"values": [{}]},
  "mark": {"type": "rect", "fill": "#20a9c6"},
  "encoding": {"x": {"datum": 1999.96}, "x2": {"datum": 2001.78}, "y": {"datum": 165.7}, "y2": {"datum": 154.2}}
},
{
  "data": {"values": [{}]},
  "mark": {"type": "rect", "fill": "#c25f5e"},
  "encoding": {"x": {"datum": 1999.06}, "x2": {"datum": 2001.07}, "y": {"datum": 76.9}, "y2": {"datum": 64.2}}
},
{
  "data": {"values": [{}]},
  "mark": {"type": "text", "text": "Gaz naturel", "align": "left", "baseline": "middle", "font": "Liberation Sans", "fontSize": 25, "color": "#111111"},
  "encoding": {"x": {"datum": 2002.23}, "y": {"datum": 204.2}}
},
{
  "data": {"values": [{}]},
  "mark": {"type": "text", "text": "Elektrizität", "align": "left", "baseline": "middle", "font": "Liberation Sans", "fontSize": 25, "color": "#111111"},
  "encoding": {"x": {"datum": 2002.33}, "y": {"datum": 160.0}}
},
{
  "data": {"values": [{}]},
  "mark": {"type": "text", "text": "Produits pétroliers", "align": "left", "baseline": "middle", "font": "Liberation Sans", "fontSize": 28, "color": "#111111"},
  "encoding": {"x": {"datum": 2001.58}, "y": {"datum": 70.8}}
},
{
  "data": {"values": [{}]},
  "mark": {"type": "text", "text": "Mazout + Essence + diesel", "align": "center", "baseline": "middle", "font": "Lato", "fontWeight": "bold", "fontSize": 38, "color": "#000000"},
  "encoding": {"x": {"datum": 2006.24}, "y": {"datum": 38.9}}
}
]
}
